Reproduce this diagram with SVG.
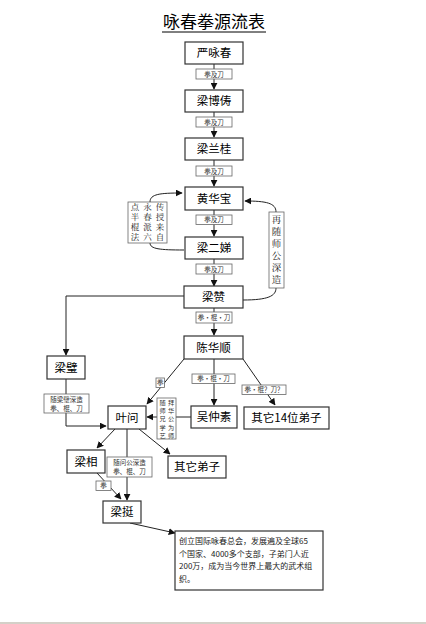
<svg xmlns="http://www.w3.org/2000/svg" width="426" height="624" viewBox="0 0 426 624">
<style>
.box{fill:#fff;stroke:#333;stroke-width:1.2}
.lbl{fill:#fff;stroke:#666;stroke-width:0.8}
.t{font-family:"Noto Sans CJK SC","Noto Sans",sans-serif;font-size:11.5px;fill:#000;text-anchor:middle}
.s{font-family:"Noto Sans CJK SC","Noto Sans",sans-serif;font-size:6.5px;fill:#333;text-anchor:middle}
.vs{font-family:"Noto Sans CJK SC","Noto Sans",sans-serif;font-size:6.2px;fill:#333;writing-mode:vertical-rl;letter-spacing:2px}
.v{font-family:"Noto Serif CJK SC","Noto Sans CJK SC",serif;font-size:8.5px;fill:#222;writing-mode:vertical-rl;letter-spacing:1.4px}
.w{font-family:"Noto Serif CJK SC","Noto Sans CJK SC",serif;font-size:9.5px;fill:#222;writing-mode:vertical-rl;letter-spacing:2.6px}
.p{font-family:"Noto Sans CJK SC","Noto Sans",sans-serif;font-size:8px;fill:#222}
.c{fill:none;stroke:#222;stroke-width:1}
</style>
<defs>
<marker id="a" viewBox="0 0 10 10" refX="9" refY="5" markerWidth="7" markerHeight="7" orient="auto" markerUnits="userSpaceOnUse">
<path d="M0,0 L10,5 L0,10 z" fill="#111"/>
</marker>
</defs>
<rect width="426" height="624" fill="#fff"/>
<rect x="0" y="622" width="426" height="2" fill="#d4d0c8"/>
<g id="title">
<text x="214" y="28" font-family="Noto Sans CJK SC,sans-serif" font-size="17" text-anchor="middle" fill="#000">咏春拳源流表</text>
<line x1="162" y1="32" x2="266" y2="32" stroke="#000" stroke-width="1"/>
</g>
<g id="connectors">
<line class="c" x1="214" y1="64" x2="214" y2="89" marker-end="url(#a)"/>
<line class="c" x1="214" y1="112" x2="214" y2="137" marker-end="url(#a)"/>
<line class="c" x1="214" y1="160" x2="214" y2="186" marker-end="url(#a)"/>
<line class="c" x1="214" y1="210" x2="214" y2="236" marker-end="url(#a)"/>
<line class="c" x1="214" y1="259" x2="214" y2="286" marker-end="url(#a)"/>
<line class="c" x1="214" y1="308" x2="214" y2="335" marker-end="url(#a)"/>
<path class="c" d="M184,296 H66 V355" marker-end="url(#a)"/>
<path class="c" d="M66,379 V426 H106" marker-end="url(#a)"/>
<line class="c" x1="184" y1="359" x2="147" y2="404" marker-end="url(#a)"/>
<line class="c" x1="214" y1="359" x2="214" y2="405" marker-end="url(#a)"/>
<line class="c" x1="243" y1="359" x2="275" y2="405" marker-end="url(#a)"/>
<line class="c" x1="191" y1="417" x2="147" y2="417" marker-end="url(#a)"/>
<line class="c" x1="115" y1="429" x2="97" y2="448" marker-end="url(#a)"/>
<line class="c" x1="127" y1="429" x2="127" y2="500" marker-end="url(#a)"/>
<line class="c" x1="139" y1="429" x2="170" y2="454" marker-end="url(#a)"/>
<line class="c" x1="97" y1="473" x2="121" y2="499" marker-end="url(#a)"/>
<line class="c" x1="130" y1="523" x2="175" y2="533" marker-end="url(#a)"/>
<path class="c" d="M150,202 C150,194 160,193 182,193" marker-end="url(#a)"/>
<path class="c" d="M184,250 C160,250 150,249 150,243"/>
<path class="c" d="M276,212 C276,203 266,201 245,201" marker-end="url(#a)"/>
<path class="c" d="M276,288 C276,296 268,300 243,300"/>
</g>
<g id="labels">
<rect class="lbl" x="196" y="69" width="36" height="10"/><text class="s" x="214" y="76.5">拳及刀</text>
<rect class="lbl" x="196" y="117" width="36" height="10"/><text class="s" x="214" y="124.5">拳及刀</text>
<rect class="lbl" x="196" y="166" width="36" height="10"/><text class="s" x="214" y="173.5">拳及刀</text>
<rect class="lbl" x="196" y="215" width="36" height="9.5"/><text class="s" x="214" y="222">拳及刀</text>
<rect class="lbl" x="196" y="264" width="36" height="10"/><text class="s" x="214" y="271.5">拳及刀</text>
<rect class="lbl" x="196" y="312" width="36" height="11"/><text class="s" x="214" y="320">拳·棍·刀</text>
<rect class="lbl" x="156" y="378" width="8.5" height="9.5"/><text class="s" x="160.2" y="385">拳</text>
<rect class="lbl" x="192" y="374" width="43" height="9.5"/><text class="s" x="213.5" y="381">拳·棍·刀</text>
<rect class="lbl" x="242" y="385" width="44" height="9.5"/><text class="s" x="264" y="392">拳·棍？刀？</text>
<rect class="lbl" x="44" y="394" width="45" height="19"/><text class="s" x="66.5" y="402">随梁璧深造</text><text class="s" x="66.5" y="410.5">拳、棍、刀</text>
<rect class="lbl" x="107" y="457" width="45" height="20"/><text class="s" x="129.5" y="465">随问公深造</text><text class="s" x="129.5" y="474">拳、棍、刀</text>
<rect class="lbl" x="96" y="481" width="15" height="9.5"/><text class="s" x="103.5" y="488">拳</text>
<rect class="lbl" x="157" y="398" width="19" height="41"/>
<text class="vs" x="171" y="399.5">拜华公为师</text>
<text class="vs" x="162.5" y="399.5">随师兄学艺</text>
<rect class="lbl" x="128" y="202" width="39" height="41" stroke="#444"/>
<text class="v" x="160" y="203">传授来自</text>
<text class="v" x="147.5" y="203">永春派六</text>
<text class="v" x="135" y="203">点半棍法</text>
<rect class="lbl" x="269" y="212" width="15" height="76" stroke="#444"/>
<text class="w" x="276.5" y="214.5">再随师公深造</text>
</g>
<g id="n1"><rect class="box" x="185" y="42" width="58" height="22"/><text class="t" x="214" y="57">严咏春</text></g>
<g id="n2"><rect class="box" x="185" y="90" width="58" height="22"/><text class="t" x="214" y="105">梁博俦</text></g>
<g id="n3"><rect class="box" x="185" y="138" width="58" height="22"/><text class="t" x="214" y="153">梁兰桂</text></g>
<g id="n4"><rect class="box" x="185" y="187" width="58" height="23"/><text class="t" x="214" y="202.5">黄华宝</text></g>
<g id="n5"><rect class="box" x="185" y="237" width="58" height="22"/><text class="t" x="214" y="252">梁二娣</text></g>
<g id="n6"><rect class="box" x="184" y="286" width="59" height="22"/><text class="t" x="213.5" y="301">梁赞</text></g>
<g id="n7"><rect class="box" x="184" y="336" width="59" height="23"/><text class="t" x="213.5" y="351.5">陈华顺</text></g>
<g id="n8"><rect class="box" x="47" y="356" width="38" height="23"/><text class="t" x="66" y="371.5">梁璧</text></g>
<g id="n9"><rect class="box" x="108" y="406" width="38" height="23"/><text class="t" x="127" y="421.5">叶问</text></g>
<g id="n10"><rect class="box" x="191" y="406" width="46" height="22"/><text class="t" x="214" y="421">吴仲素</text></g>
<g id="n11"><rect class="box" x="244" y="407" width="85" height="22"/><text class="t" x="286.5" y="422">其它14位弟子</text></g>
<g id="n12"><rect class="box" x="67" y="450" width="38" height="23"/><text class="t" x="86" y="465.5">梁相</text></g>
<g id="n13"><rect class="box" x="168" y="456" width="58" height="22"/><text class="t" x="197" y="471">其它弟子</text></g>
<g id="n14"><rect class="box" x="103" y="501" width="38" height="22"/><text class="t" x="122" y="516">梁挺</text></g>
<g id="n15"><rect class="box" x="175" y="531" width="148" height="59"/>
<text class="p" x="179" y="544">创立国际咏春总会，发展遍及全球65</text>
<text class="p" x="179" y="556.5">个国家、4000多个支部，子弟门人近</text>
<text class="p" x="179" y="569">200万，成为当今世界上最大的武术组</text>
<text class="p" x="179" y="581.5">织。</text>
</g>
</svg>
